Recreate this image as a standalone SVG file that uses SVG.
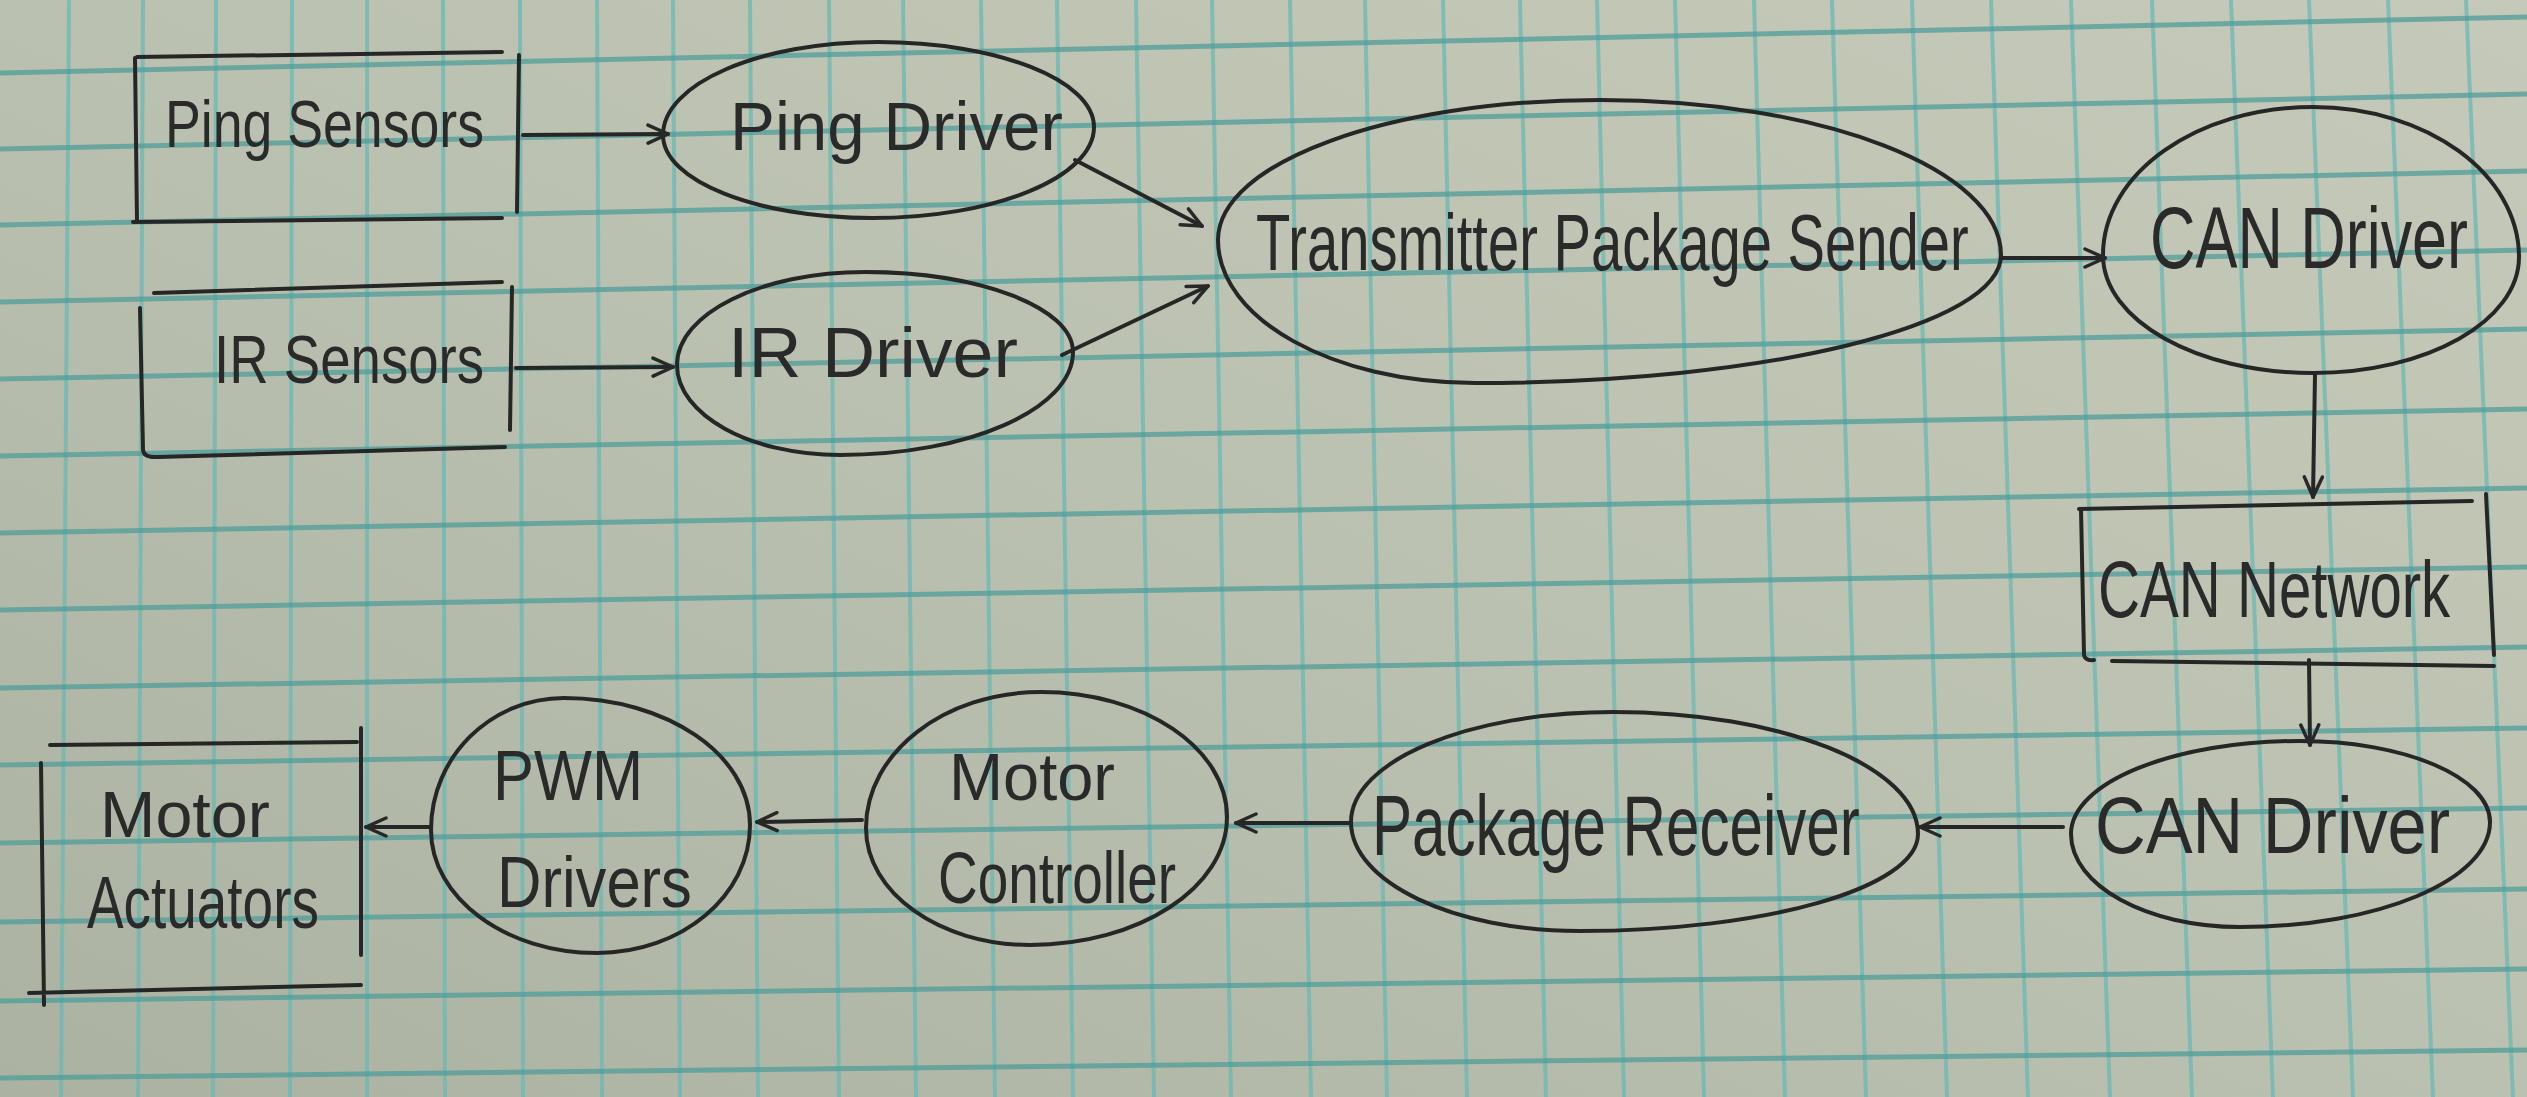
<svg xmlns="http://www.w3.org/2000/svg" width="2527" height="1097" viewBox="0 0 2527 1097">
<defs>
<linearGradient id="paper" x1="1" y1="0" x2="0" y2="1">
<stop offset="0" stop-color="#c5c9b9"/>
<stop offset="0.5" stop-color="#bbc1b0"/>
<stop offset="1" stop-color="#acb2a1"/>
</linearGradient>
<marker id="arr" viewBox="0 0 26 22" refX="23" refY="11" markerWidth="26" markerHeight="22" orient="auto" markerUnits="userSpaceOnUse">
<path d="M3,2 L23,11 L3,20" fill="none" stroke="#282828" stroke-width="3.5" stroke-linecap="round" stroke-linejoin="round"/>
</marker>
<style>
.gh{stroke:#4f9e9a;stroke-width:5;opacity:0.75}
.gv{stroke:#6cb9b4;stroke-width:4;opacity:0.75}
.pen{fill:none;stroke:#262626;stroke-width:4;stroke-linecap:round;stroke-linejoin:round}
.lbl{font-family:"Liberation Sans",Arial,sans-serif;fill:#2a2a2a;}
</style>
</defs>
<rect x="0" y="0" width="2527" height="1097" fill="url(#paper)"/>
<g id="grid">
<g class="gv">
<line x1="69" y1="0" x2="61" y2="1097"/>
<line x1="143" y1="0" x2="138" y2="1097"/>
<line x1="216" y1="0" x2="213" y2="1097"/>
<line x1="292" y1="0" x2="290" y2="1097"/>
<line x1="367" y1="0" x2="367" y2="1097"/>
<line x1="443" y1="0" x2="445" y2="1097"/>
<line x1="520" y1="0" x2="523" y2="1097"/>
<line x1="597" y1="0" x2="602" y2="1097"/>
<line x1="673" y1="0" x2="680" y2="1097"/>
<line x1="750" y1="0" x2="758" y2="1097"/>
<line x1="829" y1="0" x2="839" y2="1097"/>
<line x1="903" y1="0" x2="916" y2="1097"/>
<line x1="981" y1="0" x2="995" y2="1097"/>
<line x1="1057" y1="0" x2="1073" y2="1097"/>
<line x1="1136" y1="0" x2="1154" y2="1097"/>
<line x1="1212" y1="0" x2="1231" y2="1097"/>
<line x1="1290" y1="0" x2="1311" y2="1097"/>
<line x1="1365" y1="0" x2="1387" y2="1097"/>
<line x1="1443" y1="0" x2="1467" y2="1097"/>
<line x1="1520" y1="0" x2="1546" y2="1097"/>
<line x1="1597" y1="0" x2="1624" y2="1097"/>
<line x1="1675" y1="0" x2="1704" y2="1097"/>
<line x1="1754" y1="0" x2="1785" y2="1097"/>
<line x1="1832" y1="0" x2="1866" y2="1097"/>
<line x1="1912" y1="0" x2="1947" y2="1097"/>
<line x1="1991" y1="0" x2="2028" y2="1097"/>
<line x1="2071" y1="0" x2="2110" y2="1097"/>
<line x1="2152" y1="0" x2="2192" y2="1097"/>
<line x1="2231" y1="0" x2="2273" y2="1097"/>
<line x1="2309" y1="0" x2="2353" y2="1097"/>
<line x1="2388" y1="0" x2="2433" y2="1097"/>
<line x1="2466" y1="0" x2="2513" y2="1097"/>
</g>
<g class="gh">
<line x1="0" y1="73" x2="2527" y2="17"/>
<line x1="0" y1="149" x2="2527" y2="94"/>
<line x1="0" y1="225" x2="2527" y2="171"/>
<line x1="0" y1="302" x2="2527" y2="250"/>
<line x1="0" y1="379" x2="2527" y2="329"/>
<line x1="0" y1="456" x2="2527" y2="409"/>
<line x1="0" y1="533" x2="2527" y2="488"/>
<line x1="0" y1="610" x2="2527" y2="567"/>
<line x1="0" y1="688" x2="2527" y2="647"/>
<line x1="0" y1="765" x2="2527" y2="728"/>
<line x1="0" y1="843" x2="2527" y2="808"/>
<line x1="0" y1="922" x2="2527" y2="889"/>
<line x1="0" y1="1001" x2="2527" y2="969"/>
<line x1="0" y1="1078" x2="2527" y2="1050"/>
</g>
</g>

<g id="ping-sensors">
<path class="pen" d="M137,57 L502,52 M135,58 L137,222 M133,222 L502,218 M519,55 L517,212"/>
<text class="lbl" transform="translate(165,147) scale(0.813,1)" font-size="66">Ping Sensors</text>
</g>
<g id="ir-sensors">
<path class="pen" d="M154,293 L502,282 M140,308 L143,450 Q144,458 158,457 L505,447 M512,287 L510,430"/>
<text class="lbl" transform="translate(214,383) scale(0.803,1)" font-size="68">IR Sensors</text>
</g>
<g id="ping-driver">
<path class="pen" d="M663,135 C663,83.6 759.3,42 878,42 C997.3,42 1094,80.1 1094,127 C1094,177.3 994.6,218 872,218 C756.6,218 663,180.8 663,135 Z"/>
<text class="lbl" transform="translate(730,150) scale(0.99,1)" font-size="68">Ping Driver</text>
</g>
<g id="ir-driver">
<path class="pen" d="M677,365 C677,313.6 761.2,272 865,272 C979.9,272 1073,307.8 1073,352 C1073,408.9 968.7,455 840,455 C750,455 677,414.7 677,365 Z"/>
<text class="lbl" transform="translate(728,377) scale(1.05,1)" font-size="70">IR Driver</text>
</g>
<g id="transmitter-package-sender">
<path class="pen" d="M1218,240 C1218,162.7 1389,100 1600,100 C1821.5,100 2001,169.4 2001,255 C2001,325.7 1765.5,383 1475,383 C1333.1,383 1218,319 1218,240 Z"/>
<text class="lbl" transform="translate(1256,270) scale(0.702,1)" font-size="80">Transmitter Package Sender</text>
</g>
<g id="can-driver-tx">
<path class="pen" d="M2103,255 C2103,173.3 2197,107 2313,107 C2426.8,107 2519,174.2 2519,257 C2519,321.1 2426.8,373 2313,373 C2197,373 2103,320.2 2103,255 Z"/>
<text class="lbl" transform="translate(2150,268) scale(0.715,1)" font-size="88">CAN Driver</text>
</g>
<g id="can-network">
<path class="pen" d="M2079,509 L2472,501 M2081,509 L2084,655 Q2085,661 2094,660 M2112,661 L2494,666 M2486,494 L2494,655"/>
<text class="lbl" transform="translate(2098,617) scale(0.727,1)" font-size="80">CAN Network</text>
</g>
<g id="can-driver-rx">
<path class="pen" d="M2071,834 C2071,782.6 2173.5,741 2300,741 C2404.9,741 2490,777.3 2490,822 C2490,880 2378,927 2240,927 C2146.7,927 2071,885.4 2071,834 Z"/>
<text class="lbl" transform="translate(2095,853) scale(0.878,1)" font-size="80">CAN Driver</text>
</g>
<g id="package-receiver">
<path class="pen" d="M1351,822 C1351,761.2 1468.3,712 1613,712 C1781.5,712 1918,766.6 1918,834 C1918,887.6 1766.7,931 1580,931 C1453.5,931 1351,882.2 1351,822 Z"/>
<text class="lbl" transform="translate(1372,855) scale(0.699,1)" font-size="86">Package Receiver</text>
</g>
<g id="motor-controller">
<path class="pen" d="M866,828 C866,752.9 944.3,692 1041,692 C1143.7,692 1227,748 1227,817 C1227,887.7 1138.8,945 1030,945 C939.4,945 866,892.6 866,828 Z"/>
<text class="lbl" transform="translate(949,800) scale(0.984,1)" font-size="66">Motor</text>
<text class="lbl" transform="translate(938,903) scale(0.763,1)" font-size="72">Controller</text>
</g>
<g id="pwm-drivers">
<path class="pen" d="M431,830 C431,757.1 490.5,698 564,698 C666.7,698 750,754.9 750,825 C750,895.7 681.5,953 597,953 C505.3,953 431,897.9 431,830 Z"/>
<text class="lbl" transform="translate(493,800) scale(0.877,1)" font-size="70">PWM</text>
<text class="lbl" transform="translate(497,907) scale(0.855,1)" font-size="72">Drivers</text>
</g>
<g id="motor-actuators">
<path class="pen" d="M50,745 L357,742 M41,763 L44,1005 M29,993 L361,985 M361,728 L361,955"/>
<text class="lbl" transform="translate(100,837) scale(1.039,1)" font-size="64">Motor</text>
<text class="lbl" transform="translate(87,928) scale(0.742,1)" font-size="74">Actuators</text>
</g>

<g id="connectors" class="pen" marker-end="url(#arr)">
<path d="M523,135 L668,134"/>
<path d="M516,368 L673,367"/>
<path d="M1075,160 L1202,226"/>
<path d="M1062,355 L1208,286"/>
<path d="M2001,258 L2105,258"/>
<path d="M2315,375 L2313,497"/>
<path d="M2309,660 L2310,745"/>
<path d="M2063,827 L1920,827"/>
<path d="M1351,823 L1236,823"/>
<path d="M862,820 L757,822"/>
<path d="M431,827 L366,827"/>
</g>
</svg>
